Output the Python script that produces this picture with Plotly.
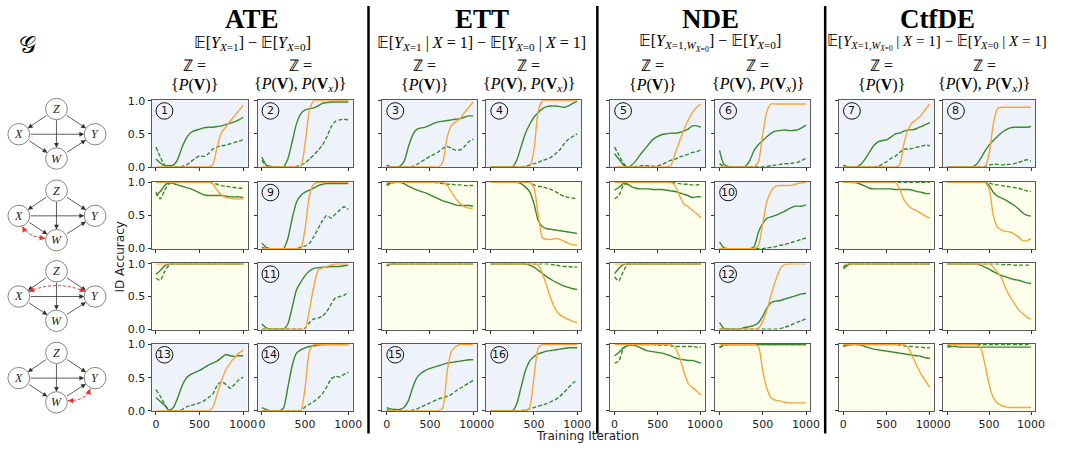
import math
import plotly.graph_objects as go

W, H = 1065, 457

# ---------------- data ----------------
ITER = [0, 50, 100, 150, 200, 250, 300, 350, 400, 450, 500,
        550, 600, 650, 700, 750, 800, 850, 900, 950, 1000]
X_TICKS = [0, 500, 1000]
Y_TICKS = [0.0, 0.5, 1.0]

# row 1
r1c1_solid = [0.12,0.06,0.02,0.02,0.03,0.12,0.30,0.44,0.52,0.55,0.57,0.59,0.60,0.60,0.61,0.62,0.64,0.66,0.68,0.71,0.75]
r1c1_dash  = [0.30,0.15,0.03,0.01,0.00,0.00,0.01,0.03,0.08,0.13,0.17,0.16,0.20,0.27,0.30,0.32,0.33,0.35,0.37,0.39,0.41]
r1c1_orng  = [0,0,0,0,0,0,0,0,0,0,0,0,0,0.03,0.30,0.52,0.60,0.69,0.77,0.85,0.93]
r1c2_solid = [0.15,0.03,0.01,0.00,0.00,0.00,0.12,0.38,0.65,0.80,0.86,0.88,0.89,0.92,0.96,0.97,0.98,0.98,0.98,0.98,0.98]
r1c2_dash  = [0.10,0.02,0.01,0.00,0.00,0.00,0.00,0.00,0.01,0.03,0.06,0.12,0.18,0.25,0.33,0.45,0.60,0.69,0.71,0.72,0.71]
r1c2_orng  = [0,0,0,0,0,0,0,0,0,0,0.35,0.85,1,1,1,1,1,1,1,1,1]
r1c3_solid = [0.03,0.00,0.00,0.01,0.08,0.30,0.48,0.57,0.59,0.60,0.63,0.66,0.68,0.69,0.70,0.71,0.72,0.73,0.75,0.77,0.77]
r1c3_dash  = [0.02,0.00,0.00,0.00,0.00,0.00,0.01,0.04,0.08,0.12,0.16,0.19,0.23,0.28,0.31,0.28,0.25,0.26,0.31,0.38,0.42]
r1c3_orng  = [0,0,0,0,0,0,0,0,0,0,0,0,0,0.08,0.45,0.63,0.68,0.73,0.82,0.90,0.98]
r1c4_solid = [0,0,0,0,0,0,0.10,0.30,0.50,0.64,0.75,0.82,0.88,0.91,0.92,0.92,0.91,0.90,0.92,0.96,0.99]
r1c4_dash  = [0,0,0,0,0,0,0,0,0.01,0.03,0.05,0.07,0.10,0.12,0.15,0.20,0.26,0.35,0.42,0.46,0.50]
r1c4_orng  = [0,0,0,0,0,0,0,0,0,0,0.25,0.85,1,1,1,1,1,1,1,1,1]
r1c5_solid = [0.20,0.12,0.03,0.00,0.03,0.10,0.19,0.27,0.35,0.42,0.46,0.49,0.50,0.51,0.51,0.52,0.54,0.57,0.62,0.62,0.60]
r1c5_dash  = [0.30,0.18,0.06,0.00,0.00,0.01,0.02,0.02,0.02,0.01,0.02,0.04,0.07,0.10,0.12,0.15,0.17,0.19,0.22,0.23,0.26]
r1c5_orng  = [0,0,0,0,0,0,0,0,0,0,0,0,0,0.02,0.20,0.38,0.55,0.70,0.82,0.90,0.95]
r1c6_solid = [0.25,0.04,0.01,0,0,0,0.01,0.10,0.25,0.34,0.40,0.46,0.51,0.54,0.55,0.56,0.55,0.55,0.56,0.59,0.63]
r1c6_dash  = [0.05,0.01,0,0,0,0,0,0,0,0,0,0.01,0.02,0.03,0.04,0.05,0.05,0.06,0.07,0.10,0.13]
r1c6_orng  = [0,0,0,0,0,0,0,0,0,0.08,0.50,0.85,0.95,0.95,0.95,0.95,0.95,0.95,0.95,0.95,0.95]
r1c7_solid = [0.03,0,0,0,0.04,0.12,0.22,0.32,0.38,0.40,0.41,0.45,0.50,0.51,0.54,0.56,0.56,0.58,0.61,0.64,0.67]
r1c7_dash  = [0.02,0,0,0,0,0,0,0,0.01,0.04,0.08,0.13,0.16,0.22,0.27,0.27,0.28,0.30,0.31,0.33,0.32]
r1c7_orng  = [0,0,0,0,0,0,0,0,0,0,0,0,0,0.03,0.35,0.57,0.67,0.72,0.78,0.87,0.95]
r1c8_solid = [0,0,0,0,0,0,0,0.04,0.13,0.24,0.33,0.40,0.46,0.52,0.56,0.59,0.60,0.60,0.60,0.60,0.61]
r1c8_dash  = [0,0,0,0,0,0,0,0,0,0.01,0.03,0.04,0.04,0.03,0.04,0.04,0.05,0.07,0.09,0.11,0.09]
r1c8_orng  = [0,0,0,0,0,0,0,0,0,0,0.20,0.65,0.88,0.90,0.90,0.90,0.90,0.90,0.90,0.90,0.90]
# row 2
r2c1_solid = [0.80,0.86,0.95,1.00,0.98,0.96,0.94,0.92,0.90,0.87,0.84,0.81,0.80,0.80,0.80,0.80,0.79,0.78,0.78,0.78,0.77]
r2c1_dash  = [0.85,0.75,0.88,0.98,1,1,1,1,1,1,1,1,1,0.99,0.97,0.95,0.94,0.93,0.92,0.91,0.91]
r2c1_orng  = [1,1,1,1,1,1,1,1,1,1,1,1,1,0.98,0.88,0.81,0.77,0.76,0.75,0.75,0.75]
r2c2_solid = [0.08,0.02,0,0,0,0,0.15,0.45,0.70,0.80,0.85,0.88,0.91,0.95,0.97,0.98,0.98,0.98,0.98,0.98,0.98]
r2c2_dash  = [0.02,0,0,0,0,0,0,0,0,0.02,0.04,0.08,0.18,0.30,0.42,0.50,0.46,0.52,0.58,0.63,0.59]
r2c2_orng  = [0,0,0,0,0,0,0,0,0,0,0.30,0.80,0.97,1,1,1,1,1,1,1,1]
r2c3_solid = [0.97,0.99,1,1,0.98,0.94,0.91,0.88,0.86,0.84,0.81,0.78,0.75,0.72,0.70,0.68,0.66,0.65,0.65,0.65,0.64]
r2c3_dash  = [0.95,0.99,1,1,1,1,1,1,1,1,1,1,0.99,0.98,0.97,0.97,0.96,0.96,0.95,0.95,0.95]
r2c3_orng  = [1,1,1,1,1,1,1,1,1,1,1,1,1,1,0.95,0.85,0.75,0.68,0.63,0.61,0.61]
r2c4_solid = [1,1,1,1,1,1,1,0.98,0.93,0.86,0.68,0.42,0.33,0.30,0.29,0.28,0.27,0.26,0.25,0.24,0.23]
r2c4_dash  = [1,1,1,1,1,1,1,1,1,1,0.96,0.94,0.93,0.91,0.89,0.86,0.82,0.79,0.77,0.76,0.75]
r2c4_orng  = [1,1,1,1,1,1,1,1,1,1,0.92,0.50,0.16,0.14,0.14,0.15,0.14,0.11,0.08,0.06,0.05]
r2c5_solid = [0.88,0.92,0.98,0.97,0.93,0.91,0.90,0.90,0.90,0.89,0.89,0.89,0.88,0.87,0.86,0.84,0.82,0.80,0.77,0.78,0.78]
r2c5_dash  = [0.75,0.80,0.95,1,1,1,1,1,1,1,1,1,1,1,0.99,0.98,0.97,0.97,0.96,0.96,0.97]
r2c5_orng  = [1,1,1,1,1,1,1,1,1,1,1,1,1,1,0.95,0.80,0.68,0.63,0.58,0.53,0.46]
r2c6_solid = [0.10,0.01,0,0,0,0,0,0,0.03,0.25,0.38,0.46,0.48,0.50,0.53,0.56,0.60,0.63,0.64,0.64,0.66]
r2c6_dash  = [0,0,0,0,0,0,0,0,0,0,0,0.01,0.02,0.03,0.05,0.06,0.08,0.10,0.12,0.14,0.16]
r2c6_orng  = [0,0,0,0,0,0,0,0,0,0.05,0.38,0.72,0.87,0.94,0.95,0.95,0.95,0.96,0.98,0.99,1.0]
r2c7_solid = [1,1,1,0.99,0.97,0.94,0.91,0.90,0.90,0.90,0.90,0.90,0.89,0.89,0.89,0.89,0.88,0.86,0.85,0.83,0.83]
r2c7_dash  = [1,1,1,1,1,1,1,1,1,1,1,1,1,1,1,1,1,1,1,1,1]
r2c7_orng  = [1,1,1,1,1,1,1,1,1,1,1,1,1,0.90,0.74,0.65,0.60,0.57,0.53,0.49,0.46]
r2c8_solid = [1,1,1,1,1,1,1,1,1,1,0.95,0.85,0.79,0.76,0.73,0.69,0.65,0.60,0.54,0.50,0.49]
r2c8_dash  = [1,1,1,1,1,1,1,1,1,1,0.99,0.97,0.96,0.95,0.94,0.93,0.92,0.91,0.89,0.87,0.86]
r2c8_orng  = [1,1,1,1,1,1,1,1,1,1,0.90,0.50,0.32,0.28,0.26,0.25,0.22,0.18,0.12,0.12,0.15]
# row 3
r3c1_solid = [0.84,0.90,0.97,1,1,1,1,1,1,1,1,1,1,1,1,1,1,1,1,1,1]
r3c1_dash  = [0.78,0.75,0.88,0.98,1,1,1,1,1,1,1,1,1,1,1,1,1,1,1,1,1]
r3c1_orng  = [1,1,1,1,1,1,1,1,1,1,1,1,1,1,1,1,1,1,1,1,1]
r3c2_solid = [0.08,0.02,0,0,0,0,0.08,0.33,0.60,0.72,0.82,0.89,0.93,0.94,0.95,0.95,0.96,0.96,0.96,0.97,0.98]
r3c2_dash  = [0,0,0,0,0,0,0,0,0,0,0.02,0.10,0.16,0.17,0.20,0.27,0.38,0.48,0.50,0.52,0.57]
r3c2_orng  = [0,0,0,0,0,0,0,0,0,0,0,0.30,0.65,0.90,0.94,0.96,0.98,1,1,1,1]
r3c3_solid = [0.98,1,1,1,1,1,1,1,1,1,1,1,1,1,1,1,1,1,1,1,1]
r3c3_dash  = [0.97,1,1,1,1,1,1,1,1,1,1,1,1,1,1,1,1,1,1,1,1]
r3c3_orng  = [1,1,1,1,1,1,1,1,1,1,1,1,1,1,1,1,1,1,1,1,1]
r3c4_solid = [1,1,1,1,1,1,1,1,1,0.98,0.95,0.90,0.85,0.80,0.76,0.72,0.69,0.66,0.64,0.62,0.61]
r3c4_dash  = [1,1,1,1,1,1,1,1,1,1,1,1,1,1,0.99,0.98,0.97,0.96,0.96,0.95,0.95]
r3c4_orng  = [1,1,1,1,1,1,1,1,1,1,1,0.98,0.85,0.65,0.45,0.30,0.22,0.18,0.15,0.12,0.10]
r3c5_solid = [0.85,0.93,0.99,1,1,1,1,1,1,1,1,1,1,1,1,1,1,1,1,1,1]
r3c5_dash  = [0.80,0.74,0.88,0.99,1,1,1,1,1,1,1,1,1,1,1,1,1,1,1,1,1]
r3c5_orng  = [1,1,1,1,1,1,1,1,1,1,1,1,1,1,1,1,1,1,1,1,1]
r3c6_solid = [0.10,0.01,0,0,0,0.01,0.03,0.04,0.06,0.10,0.20,0.33,0.41,0.43,0.44,0.46,0.48,0.50,0.52,0.54,0.55]
r3c6_dash  = [0,0,0,0,0,0,0,0,0,0,0,0,0,0,0.01,0.03,0.05,0.08,0.11,0.13,0.16]
r3c6_orng  = [0,0,0,0,0,0,0,0,0,0.02,0.12,0.30,0.55,0.75,0.92,0.99,1,1,1,1,1]
r3c7_solid = [0.92,0.98,1,1,1,1,1,1,1,1,1,1,1,1,1,1,1,1,1,1,1]
r3c7_dash  = [0.95,1,1,1,1,1,1,1,1,1,1,1,1,1,1,1,1,1,1,1,1]
r3c7_orng  = [1,1,1,1,1,1,1,1,1,1,1,1,1,1,1,1,1,1,1,1,1]
r3c8_solid = [1,1,1,1,1,1,1,1,0.98,0.95,0.92,0.88,0.85,0.82,0.80,0.78,0.76,0.75,0.73,0.71,0.70]
r3c8_dash  = [1,1,1,1,1,1,1,1,1,1,1,1,1,0.99,0.99,0.99,0.98,0.98,0.98,0.98,0.98]
r3c8_orng  = [1,1,1,1,1,1,1,1,1,1,1,0.95,0.87,0.78,0.62,0.50,0.40,0.30,0.24,0.19,0.15]
# row 4
r4c1_solid = [0.20,0.14,0.08,0.01,0.05,0.20,0.38,0.50,0.55,0.58,0.61,0.65,0.69,0.72,0.75,0.80,0.85,0.83,0.82,0.83,0.83]
r4c1_dash  = [0.32,0.22,0.10,0.01,0,0,0.02,0.06,0.08,0.10,0.12,0.15,0.20,0.25,0.38,0.44,0.40,0.34,0.40,0.47,0.51]
r4c1_orng  = [0,0,0,0,0,0,0,0,0,0,0,0,0,0.05,0.25,0.45,0.62,0.72,0.80,0.87,0.92]
r4c2_solid = [0.05,0.02,0,0,0,0.04,0.35,0.68,0.87,0.92,0.95,0.97,0.98,0.99,1,1,1,1,1,1,1]
r4c2_dash  = [0,0,0,0,0,0,0,0,0,0,0.06,0.10,0.14,0.19,0.26,0.36,0.48,0.52,0.51,0.55,0.58]
r4c2_orng  = [0,0,0,0,0,0,0,0,0,0,0.35,0.90,1,1,1,1,1,1,1,1,1]
r4c3_solid = [0.05,0.03,0.02,0.02,0.05,0.15,0.35,0.50,0.57,0.61,0.64,0.66,0.68,0.70,0.72,0.73,0.74,0.75,0.76,0.77,0.77]
r4c3_dash  = [0.02,0,0,0,0,0,0.01,0.03,0.06,0.09,0.12,0.15,0.18,0.20,0.22,0.25,0.30,0.34,0.38,0.42,0.46]
r4c3_orng  = [0,0,0,0,0,0,0,0,0,0,0,0,0,0.05,0.60,0.90,0.97,1,1,1,1]
r4c4_solid = [0,0,0,0,0,0,0.10,0.35,0.60,0.75,0.82,0.86,0.88,0.90,0.91,0.92,0.93,0.94,0.95,0.95,0.95]
r4c4_dash  = [0,0,0,0,0,0,0,0,0.01,0.03,0.05,0.07,0.09,0.11,0.14,0.17,0.22,0.28,0.35,0.42,0.46]
r4c4_orng  = [0,0,0,0,0,0,0,0,0,0.05,0.50,0.95,1,1,1,1,1,1,1,1,1]
r4c5_solid = [0.83,0.88,0.95,0.98,0.99,0.98,0.95,0.92,0.90,0.89,0.88,0.87,0.85,0.83,0.80,0.78,0.77,0.76,0.76,0.74,0.72]
r4c5_dash  = [0.72,0.75,0.93,0.99,1,1,1,1,1,1,0.99,0.99,0.99,0.98,0.97,0.97,0.97,0.97,0.97,0.96,0.96]
r4c5_orng  = [1,1,1,1,1,1,1,1,1,1,1,1,1,1,0.95,0.82,0.60,0.42,0.35,0.30,0.24]
r4c6_solid = [0.95,1,1,1,1,1,1,1,1,1,1,1,1,1,1,1,1,1,1,1,1]
r4c6_dash  = [0.96,0.98,1,1,1,1,1,1,1,1,1,1,1,1,1,1,1,1,1,1,1]
r4c6_orng  = [1,1,1,1,1,1,1,1,1,0.97,0.60,0.33,0.19,0.16,0.15,0.13,0.12,0.12,0.12,0.12,0.12]
r4c7_solid = [0.97,0.99,1,1,0.99,0.97,0.95,0.93,0.92,0.91,0.90,0.89,0.88,0.87,0.86,0.85,0.84,0.83,0.82,0.80,0.79]
r4c7_dash  = [0.98,1,1,1,1,1,1,1,1,1,1,1,1,0.99,0.98,0.97,0.97,0.96,0.96,0.95,0.95]
r4c7_orng  = [1,1,1,1,1,1,1,1,1,1,1,1,1,1,1,0.95,0.82,0.68,0.55,0.45,0.35]
r4c8_solid = [0.96,0.97,0.97,0.96,0.96,0.96,0.96,0.96,0.96,0.96,0.96,0.96,0.96,0.96,0.96,0.96,0.96,0.96,0.96,0.96,0.96]
r4c8_dash  = [0.97,1,1,1,1,1,1,1,1,1,1,1,1,1,1,1,1,1,1,1,1]
r4c8_orng  = [1,1,1,1,1,1,1,1,0.95,0.70,0.40,0.20,0.12,0.08,0.06,0.05,0.05,0.05,0.05,0.05,0.05]

PANEL_LABELS = [
    ["1", "2", "3", "4", "5", "6", "7", "8"],
    ["", "9", "", "", "", "10", "", ""],
    ["", "11", "", "", "", "12", "", ""],
    ["13", "14", "15", "16", "", "", "", ""],
]

EXP = "<span style='font-family:DejaVu Sans'>𝔼</span>"
GROUP_TITLES = ["ATE", "ETT", "NDE", "CtfDE"]
GROUP_FORMULAS = [
    EXP + "[<i>Y</i><sub><i>X</i>=1</sub>] − " + EXP + "[<i>Y</i><sub><i>X</i>=0</sub>]",
    EXP + "[<i>Y</i><sub><i>X</i>=1</sub> | <i>X</i> = 1] − " + EXP + "[<i>Y</i><sub><i>X</i>=0</sub> | <i>X</i> = 1]",
    EXP + "[<i>Y</i><sub><i>X</i>=1,<i>W</i><sub><i>X</i>=0</sub></sub>] − " + EXP + "[<i>Y</i><sub><i>X</i>=0</sub>]",
    EXP + "[<i>Y</i><sub><i>X</i>=1,<i>W</i><sub><i>X</i>=0</sub></sub> | <i>X</i> = 1] − " + EXP + "[<i>Y</i><sub><i>X</i>=0</sub> | <i>X</i> = 1]",
]
FORMULA_SIZES = [16, 16, 16, 15]
Z_LINE = "ℤ ="
Z_SETS = ["{<i>P</i>(<b>V</b>)}",
          "{<i>P</i>(<b>V</b>), <i>P</i>(<b>V</b><sub><i>x</i></sub>)}"]
X_TITLE = "Training Iteration"
Y_TITLE = "ID Accuracy"

# causal graphs: edges and bidirected (confounded) pairs per row
DIRECTED_EDGES = [("Z", "X"), ("Z", "Y"), ("Z", "W"), ("X", "Y"), ("X", "W"), ("W", "Y")]
BIDIRECTED = [None, ("X", "W"), ("X", "Y"), ("W", "Y")]

# ---------------- layout constants ----------------
COL_PX = [(153, 250), (260, 356), (386, 482), (491, 587),
          (616, 712), (722, 818), (847, 943), (952, 1045)]
ROW_PX = [(97, 166), (181, 250), (265, 333), (348, 417)]
SEPARATORS = [372, 603, 833]

BLUE_BG = "#eef3fb"
YELLOW_BG = "#fefeec"
GREEN = "#3a882b"
ORANGE = "#f5a53a"
FRAME = "#5a5a5a"


def px(x):
    return x / W


def py(y):
    return 1 - y / H


PANELS = [
    [(r1c1_solid, r1c1_dash, r1c1_orng), (r1c2_solid, r1c2_dash, r1c2_orng),
     (r1c3_solid, r1c3_dash, r1c3_orng), (r1c4_solid, r1c4_dash, r1c4_orng),
     (r1c5_solid, r1c5_dash, r1c5_orng), (r1c6_solid, r1c6_dash, r1c6_orng),
     (r1c7_solid, r1c7_dash, r1c7_orng), (r1c8_solid, r1c8_dash, r1c8_orng)],
    [(r2c1_solid, r2c1_dash, r2c1_orng), (r2c2_solid, r2c2_dash, r2c2_orng),
     (r2c3_solid, r2c3_dash, r2c3_orng), (r2c4_solid, r2c4_dash, r2c4_orng),
     (r2c5_solid, r2c5_dash, r2c5_orng), (r2c6_solid, r2c6_dash, r2c6_orng),
     (r2c7_solid, r2c7_dash, r2c7_orng), (r2c8_solid, r2c8_dash, r2c8_orng)],
    [(r3c1_solid, r3c1_dash, r3c1_orng), (r3c2_solid, r3c2_dash, r3c2_orng),
     (r3c3_solid, r3c3_dash, r3c3_orng), (r3c4_solid, r3c4_dash, r3c4_orng),
     (r3c5_solid, r3c5_dash, r3c5_orng), (r3c6_solid, r3c6_dash, r3c6_orng),
     (r3c7_solid, r3c7_dash, r3c7_orng), (r3c8_solid, r3c8_dash, r3c8_orng)],
    [(r4c1_solid, r4c1_dash, r4c1_orng), (r4c2_solid, r4c2_dash, r4c2_orng),
     (r4c3_solid, r4c3_dash, r4c3_orng), (r4c4_solid, r4c4_dash, r4c4_orng),
     (r4c5_solid, r4c5_dash, r4c5_orng), (r4c6_solid, r4c6_dash, r4c6_orng),
     (r4c7_solid, r4c7_dash, r4c7_orng), (r4c8_solid, r4c8_dash, r4c8_orng)],
]

fig = go.Figure()
shapes = []
annotations = []
layout_axes = {}

for r in range(4):
    for c in range(8):
        k = r * 8 + c + 1
        xa = "x" if k == 1 else f"x{k}"
        ya = "y" if k == 1 else f"y{k}"
        xname = "xaxis" if k == 1 else f"xaxis{k}"
        yname = "yaxis" if k == 1 else f"yaxis{k}"
        x0p, x1p = COL_PX[c]
        y0p, y1p = ROW_PX[r]
        layout_axes[xname] = dict(
            domain=[px(x0p), px(x1p)], anchor=ya, range=[-50, 1050],
            tickvals=X_TICKS, showticklabels=(r == 3), ticks="outside",
            ticklen=3, tickwidth=1, tickcolor="#333",
            showline=True, mirror=True, linecolor=FRAME, linewidth=1,
            showgrid=False, zeroline=False,
            tickfont=dict(family="DejaVu Sans", size=11, color="#222"),
        )
        layout_axes[yname] = dict(
            domain=[py(y1p), py(y0p)], anchor=xa, range=[-0.004, 1.006],
            tickvals=Y_TICKS, tickformat=".1f", showticklabels=(c == 0),
            ticks="outside", ticklen=3, tickwidth=1, tickcolor="#333",
            showline=True, mirror=True, linecolor=FRAME, linewidth=1,
            showgrid=False, zeroline=False,
            tickfont=dict(family="DejaVu Sans", size=11, color="#222"),
        )
        label = PANEL_LABELS[r][c]
        shapes.append(dict(type="rect", xref=f"{xa} domain", yref=f"{ya} domain",
                           x0=0, x1=1, y0=0, y1=1, line_width=0, layer="below",
                           fillcolor=BLUE_BG if label else YELLOW_BG))
        solid, dash, orng = PANELS[r][c]
        fig.add_trace(go.Scatter(x=ITER, y=solid, xaxis=xa, yaxis=ya, mode="lines",
                                 line=dict(color=GREEN, width=1.4, shape="spline", smoothing=0.6),
                                 showlegend=False, hoverinfo="skip"))
        fig.add_trace(go.Scatter(x=ITER, y=dash, xaxis=xa, yaxis=ya, mode="lines",
                                 line=dict(color=GREEN, width=1.4, dash="4px,2px", shape="spline", smoothing=0.6),
                                 showlegend=False, hoverinfo="skip"))
        fig.add_trace(go.Scatter(x=ITER, y=orng, xaxis=xa, yaxis=ya, mode="lines",
                                 line=dict(color=ORANGE, width=1.4, shape="spline", smoothing=0.6),
                                 showlegend=False, hoverinfo="skip"))
        if label:
            cx, cy, rad = x0p + 13, y0p + 11, 8.5
            shapes.append(dict(type="circle", xref="paper", yref="paper",
                               x0=px(cx - rad), x1=px(cx + rad), y0=py(cy + rad), y1=py(cy - rad),
                               line=dict(color="#111", width=1), layer="above"))
            annotations.append(dict(x=px(cx), y=py(cy), xref="paper", yref="paper",
                                    text=label, showarrow=False, xanchor="center", yanchor="middle",
                                    font=dict(family="DejaVu Sans", size=11, color="#111")))

# group headers
for g in range(4):
    cl = COL_PX[2 * g][0]
    cr = COL_PX[2 * g + 1][1]
    cxm = (cl + cr) / 2
    annotations.append(dict(x=px(cxm), y=py(13), xref="paper", yref="paper",
                            text=f"<b>{GROUP_TITLES[g]}</b>", showarrow=False,
                            xanchor="center", yanchor="middle",
                            font=dict(family="Liberation Serif", size=27, color="black")))
    annotations.append(dict(x=px(cxm), y=py(38), xref="paper", yref="paper",
                            text=GROUP_FORMULAS[g], showarrow=False,
                            xanchor="center", yanchor="middle",
                            font=dict(family="Liberation Serif", size=FORMULA_SIZES[g], color="black")))
    for j in range(2):
        c0, c1 = COL_PX[2 * g + j]
        ccx = (c0 + c1) / 2 - 5
        annotations.append(dict(x=px(ccx), y=py(61), xref="paper", yref="paper",
                                text=Z_LINE, showarrow=False, xanchor="center", yanchor="middle",
                                font=dict(family="Liberation Serif", size=16, color="black")))
        annotations.append(dict(x=px(ccx), y=py(81), xref="paper", yref="paper",
                                text=Z_SETS[j], showarrow=False, xanchor="center", yanchor="middle",
                                font=dict(family="Liberation Serif", size=16, color="black")))

# separators
for sx in SEPARATORS:
    shapes.append(dict(type="line", xref="paper", yref="paper",
                       x0=px(sx), x1=px(sx), y0=py(440), y1=py(0),
                       line=dict(color="black", width=2.5)))

# axis titles
annotations.append(dict(x=px(593), y=py(443), xref="paper", yref="paper", text=X_TITLE,
                        showarrow=False, xanchor="center", yanchor="middle",
                        font=dict(family="DejaVu Sans", size=12, color="#222")))
annotations.append(dict(x=px(121), y=py(258), xref="paper", yref="paper", text=Y_TITLE,
                        showarrow=False, xanchor="center", yanchor="middle", textangle=-90,
                        font=dict(family="DejaVu Sans", size=12, color="#222")))

# causal graph label
annotations.append(dict(x=px(28), y=py(40), xref="paper", yref="paper", text="𝒢",
                        showarrow=False, xanchor="center", yanchor="middle",
                        font=dict(family="DejaVu Serif", size=24, color="black")))

# causal diagrams
Z_TOPS = [106, 190, 273, 357]
NODE_OFF = {"Z": (57, 0), "X": (19, 26), "Y": (96, 26), "W": (57, 51)}
NR = 11
for gi, zt in enumerate(Z_TOPS):
    pos = {n: (o[0], zt + o[1]) for n, o in NODE_OFF.items()}
    for a, b in DIRECTED_EDGES:
        (ax_, ay_), (bx, by) = pos[a], pos[b]
        d = math.hypot(bx - ax_, by - ay_)
        ux, uy = (bx - ax_) / d, (by - ay_) / d
        hx, hy = bx - NR * ux, by - NR * uy
        tx, ty = ax_ + NR * ux, ay_ + NR * uy
        annotations.append(dict(x=px(hx), y=py(hy), xref="paper", yref="paper", text="",
                                showarrow=True, ax=tx - hx, ay=ty - hy,
                                arrowhead=2, arrowsize=1.2, arrowwidth=0.8, arrowcolor="#333",
                                standoff=0, startstandoff=0))
    for n, (nx, ny) in pos.items():
        shapes.append(dict(type="circle", xref="paper", yref="paper",
                           x0=px(nx - NR), x1=px(nx + NR), y0=py(ny + NR), y1=py(ny - NR),
                           line=dict(color="#777", width=0.9), fillcolor="white"))
        annotations.append(dict(x=px(nx), y=py(ny), xref="paper", yref="paper",
                                text=f"<i>{n}</i>", showarrow=False, xanchor="center", yanchor="middle",
                                font=dict(family="Liberation Serif", size=12, color="#222")))
    bd = BIDIRECTED[gi]
    if bd:
        if bd == ("X", "W"):
            s, e, ctl = (22.5, zt + 37), (45.5, zt + 49), (29, zt + 48)
        elif bd == ("X", "Y"):
            s, e, ctl = (29, zt + 21), (86, zt + 21), (57.5, zt + 8.5)
        else:
            s, e, ctl = (68.5, zt + 49), (91, zt + 37), (86, zt + 50)
        path = (f"M {px(s[0])},{py(s[1])} Q {px(ctl[0])},{py(ctl[1])} {px(e[0])},{py(e[1])}")
        shapes.append(dict(type="path", xref="paper", yref="paper", path=path,
                           line=dict(color="#e8332a", width=1, dash="3px,2px")))
        for endp in (s, e):
            dx, dy = ctl[0] - endp[0], ctl[1] - endp[1]
            dd = math.hypot(dx, dy)
            annotations.append(dict(x=px(endp[0]), y=py(endp[1]), xref="paper", yref="paper",
                                    text="", showarrow=True, ax=4 * dx / dd, ay=4 * dy / dd,
                                    arrowhead=2, arrowsize=1.1, arrowwidth=1, arrowcolor="#e8332a",
                                    standoff=0, startstandoff=0))

fig.update_layout(
    width=W, height=H, margin=dict(l=0, r=0, t=0, b=0),
    paper_bgcolor="white", plot_bgcolor="rgba(0,0,0,0)",
    showlegend=False, shapes=shapes, annotations=annotations, **layout_axes,
)
fig.write_html("out.html", config={"displayModeBar": False},
               post_script="document.body.style.margin='0';document.body.style.overflow='hidden';")
